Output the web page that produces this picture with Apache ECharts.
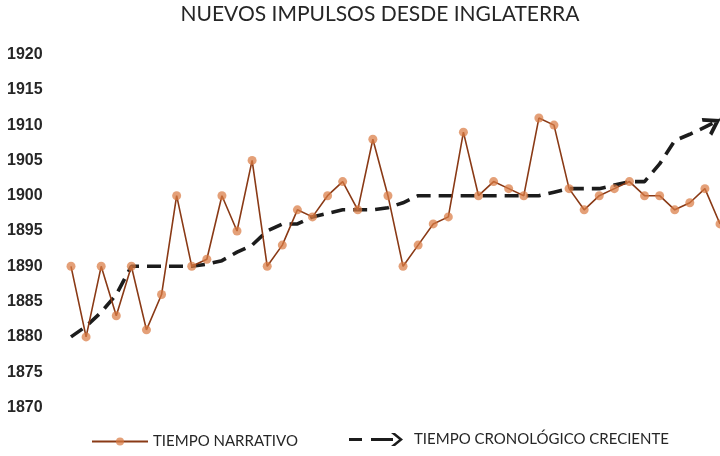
<!DOCTYPE html>
<html>
<head>
<meta charset="utf-8">
<script src="https://cdn.jsdelivr.net/npm/echarts@6/dist/echarts.min.js"></script>
<style>html,body{margin:0;padding:0;background:#fff}#c{width:720px;height:456px}</style>
</head>
<body>
<div id="c"></div>
<script>
const titleText = 'NUEVOS IMPULSOS DESDE INGLATERRA';
const seriesNames = ['TIEMPO NARRATIVO', 'TIEMPO CRONOLÓGICO CRECIENTE'];
const categories = Array.from({length: 44}, (_, i) => String(i + 1));
const narrativo = [1890,1880,1890,1883,1890,1881,1886,1900,1890,1891,
                   1900,1895,1905,1890,1893,1898,1897,1900,1902,1898,
                   1908,1900,1890,1893,1896,1897,1909,1900,1902,1901,
                   1900,1911,1910,1901,1898,1900,1901,1902,1900,1900,
                   1898,1899,1901,1896];
const cronologico = [1880,1881.5,1883.5,1886,1890,1890,1890,1890,1890,1890.3,
                     1890.8,1892,1893,1895,1896,1896,1897,1897.5,1898,1898,
                     1898,1898.3,1899,1900,1900,1900,1900,1900,1900,1900,
                     1900,1900,1900.5,1901,1901,1901,1901.5,1902,1902,1904.5,
                     1907.8,1908.7,1909.7,1910.8];
const yMin = 1870, yMax = 1920, yStep = 5;

const chevOpen = 'path://M0,0L9,8L0,16';
const legendArrow = 'path://M0,5.5H13V8.5H0Z M22,5.5H44V8.5H22Z M42,0.5L46,0.5L54,7L46,13.5L42,13.5L50,7Z M60,7L60,7.01L59.99,7Z';

const lastIdx = cronologico.length - 1;

const chart = echarts.init(document.getElementById('c'), null, {renderer: 'canvas'});
chart.setOption({
  animation: false,
  title: {
    text: titleText, left: 380, top: 4, padding: 0, textAlign: 'center',
    textStyle: {fontFamily: 'Lato', fontWeight: 'normal', fontSize: 21, color: '#262626'}
  },
  legend: [
    {data: [seriesNames[0]], left: 91, top: 434, padding: 0, itemWidth: 56, itemHeight: 10,
     selectedMode: false,
     textStyle: {fontFamily: 'Lato', fontSize: 15, color: '#262626'}},
    {data: [{name: seriesNames[1], icon: legendArrow}], left: 349, top: 432, padding: 0, itemWidth: 60, itemHeight: 14,
     selectedMode: false,
     textStyle: {fontFamily: 'Lato', fontSize: 15, color: '#262626'}}
  ],
  grid: {left: 71, right: 0, top: 54.5, bottom: 48.5, containLabel: false},
  xAxis: {type: 'category', data: categories, boundaryGap: false, show: false},
  yAxis: {
    type: 'value', min: yMin, max: yMax, interval: yStep,
    axisLine: {show: false}, axisTick: {show: false}, splitLine: {show: false},
    axisLabel: {align: 'left', margin: 64, fontFamily: 'Liberation Sans', fontWeight: 'bold',
                fontSize: 16, color: '#262626', formatter: v => String(v)}
  },
  series: [
    {
      name: seriesNames[0], type: 'line', data: narrativo,
      symbol: 'circle', symbolSize: 9, showAllSymbol: true,
      lineStyle: {color: '#8a3a16', width: 1.6},
      itemStyle: {color: 'rgba(218,124,68,0.72)', borderWidth: 0},
      emphasis: {disabled: true}, z: 3
    },
    {
      name: seriesNames[1], type: 'line', data: cronologico,
      symbol: 'none', clip: false,
      lineStyle: {color: '#1c1c1c', width: 3.6, type: [14, 8]},
      itemStyle: {color: '#1c1c1c'},
      emphasis: {disabled: true}, z: 2,
      markPoint: {
        silent: true, animation: false,
        label: {show: false},
        symbol: chevOpen, symbolSize: [13, 17], symbolRotate: 30, symbolKeepAspect: false,
        symbolOffset: [-8, 4.5],
        itemStyle: {color: 'none', borderColor: '#1c1c1c', borderWidth: 3.6},
        data: [{coord: [categories[lastIdx], cronologico[lastIdx]]}]
      }
    }
  ]
});
</script>
</body>
</html>
